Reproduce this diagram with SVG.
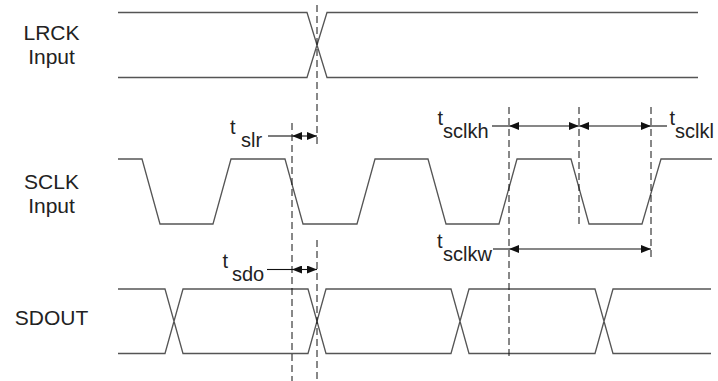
<svg xmlns="http://www.w3.org/2000/svg" width="718" height="381" viewBox="0 0 718 381">
<defs>
<style>
.wave{fill:none;stroke:#555;stroke-width:1.3;stroke-linejoin:miter}
.dash{fill:none;stroke:#111;stroke-width:1;stroke-dasharray:7 4}
.dim{fill:none;stroke:#111;stroke-width:1.1}
.arr{marker-start:url(#ah);marker-end:url(#ah)}
.lbl{font-family:"Liberation Sans",Arial,sans-serif;font-size:21px;fill:#222;text-anchor:middle}
.tl{font-family:"Liberation Sans",Arial,sans-serif;font-size:20px;fill:#222}
</style>
<marker id="ah" viewBox="0 0 10 8" refX="10" refY="4" markerWidth="10" markerHeight="8" markerUnits="userSpaceOnUse" orient="auto-start-reverse">
<path d="M0,0 L10,4 L0,8 Z" fill="#111"/>
</marker>
</defs>
<rect width="718" height="381" fill="#fff"/>

<g id="lrck">
<text class="lbl" x="51.5" y="40">LRCK</text>
<text class="lbl" x="51.5" y="64">Input</text>
<path class="wave" d="M118,12.5 H307 L327,77.5 H698 M118,77.5 H307 L327,12.5 H698"/>
</g>

<g id="sclk">
<text class="lbl" x="51.5" y="188.5">SCLK</text>
<text class="lbl" x="51.5" y="213">Input</text>
<path class="wave" d="M118,159 H142 L160,224 H213 L231,159 H285 L303,224 H357 L375,159 H428 L446,224 H499 L517,159 H571 L589,224 H642 L661,159 H712"/>
</g>

<g id="sdout">
<text class="lbl" x="51.5" y="325">SDOUT</text>
<path class="wave" d="M118,289 H165 L183,353.5 H308 L326,289 H451 L469,353.5 H595 L613,289 H711 M118,353.5 H165 L183,289 H308 L326,353.5 H451 L469,289 H595 L613,353.5 H711"/>
</g>

<g id="connectors">
<line class="dash" x1="317" y1="5" x2="317" y2="147"/>
<line class="dash" x1="317" y1="240" x2="317" y2="381"/>
<line class="dash" x1="292" y1="123" x2="292" y2="381"/>
<line class="dash" x1="509" y1="107" x2="509" y2="357"/>
<line class="dash" x1="579" y1="107" x2="579" y2="228"/>
<line class="dash" x1="651" y1="107" x2="651" y2="260"/>

<line class="dim" x1="268" y1="136" x2="292" y2="136"/>
<line class="dim arr" x1="292" y1="136" x2="317" y2="136"/>

<line class="dim" x1="492" y1="126" x2="509" y2="126"/>
<line class="dim arr" x1="509" y1="126" x2="579" y2="126"/>
<line class="dim arr" x1="579" y1="126" x2="651" y2="126"/>
<line class="dim" x1="651" y1="126" x2="667" y2="126"/>

<line class="dim" x1="493" y1="249" x2="509" y2="249"/>
<line class="dim arr" x1="509" y1="249" x2="651" y2="249"/>

<line class="dim" x1="267" y1="269.5" x2="292" y2="269.5"/>
<line class="dim arr" x1="292" y1="269.5" x2="317" y2="269.5"/>
</g>

<g id="labels">
<text class="tl" x="230" y="134">t</text><text class="tl" x="241" y="147">slr</text>
<text class="tl" x="437.5" y="125">t</text><text class="tl" x="443" y="138">sclkh</text>
<text class="tl" x="669.5" y="125">t</text><text class="tl" x="675" y="138">sclkl</text>
<text class="tl" x="437" y="248">t</text><text class="tl" x="443" y="261">sclkw</text>
<text class="tl" x="222.5" y="268">t</text><text class="tl" x="232" y="281">sdo</text>
</g>
</svg>
